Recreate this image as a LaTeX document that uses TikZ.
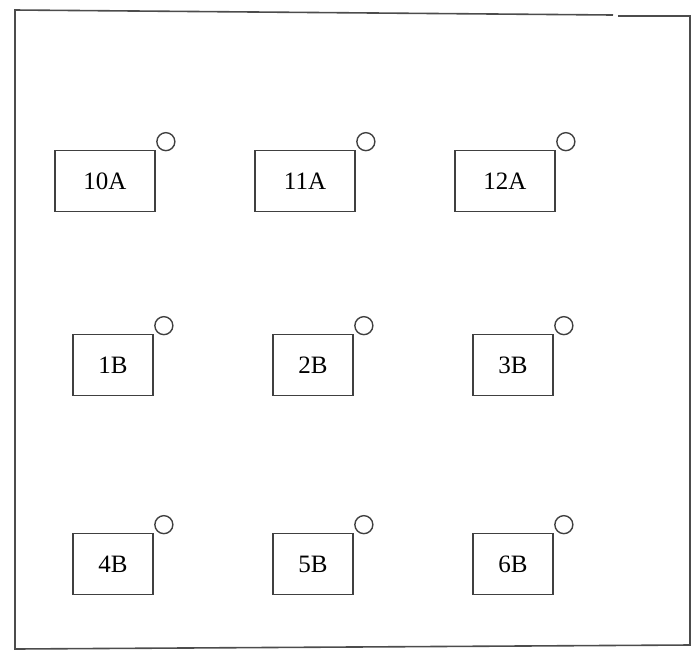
\documentclass[tikz,border=0pt]{standalone}
\usepackage{fontspec}
\setmainfont{Liberation Serif}
\usetikzlibrary{positioning}

\begin{document}
\begin{tikzpicture}[
  x=0.5pt, y=-0.5pt,
  node distance=100pt,
  bayA/.style={rectangle, draw=black!75, line width=0.8pt, minimum width=50pt, minimum height=30.5pt, inner sep=0pt, font=\fontsize{12.5}{15}\selectfont},
  bayB/.style={bayA, minimum width=40pt},
  ring/.style={circle, draw=black!75, line width=0.7pt, minimum size=9pt, inner sep=0pt},
  frame/.style={draw=black!70, line width=0.8pt}
]
  \useasboundingbox (0,0) rectangle (692,655);

  % outer frame, with the small break in the top edge
  \draw[frame] (618,16) -- (690,16) -- (690,645) -- (15,649) -- (15,10) -- (613,15);

  % top row
  \node[bayA] (b10A) at (105,181) {10A};
  \node[bayA] (b11A) [right of=b10A] {11A};
  \node[bayA] (b12A) [right of=b11A] {12A};

  % middle row
  \node[bayB] (b1B) at (113,365) {1B};
  \node[bayB] (b2B) [right of=b1B] {2B};
  \node[bayB] (b3B) [right of=b2B] {3B};

  % bottom row
  \node[bayB] (b4B) at (113,564) {4B};
  \node[bayB] (b5B) [right of=b4B] {5B};
  \node[bayB] (b6B) [right of=b5B] {6B};

  % small circles on the corners
  \foreach \b in {b10A,b11A,b12A,b1B,b2B,b3B,b4B,b5B,b6B}
    \node[ring, above right=0.6pt and 1.6pt of \b] (r\b) {};

\end{tikzpicture}
\end{document}
